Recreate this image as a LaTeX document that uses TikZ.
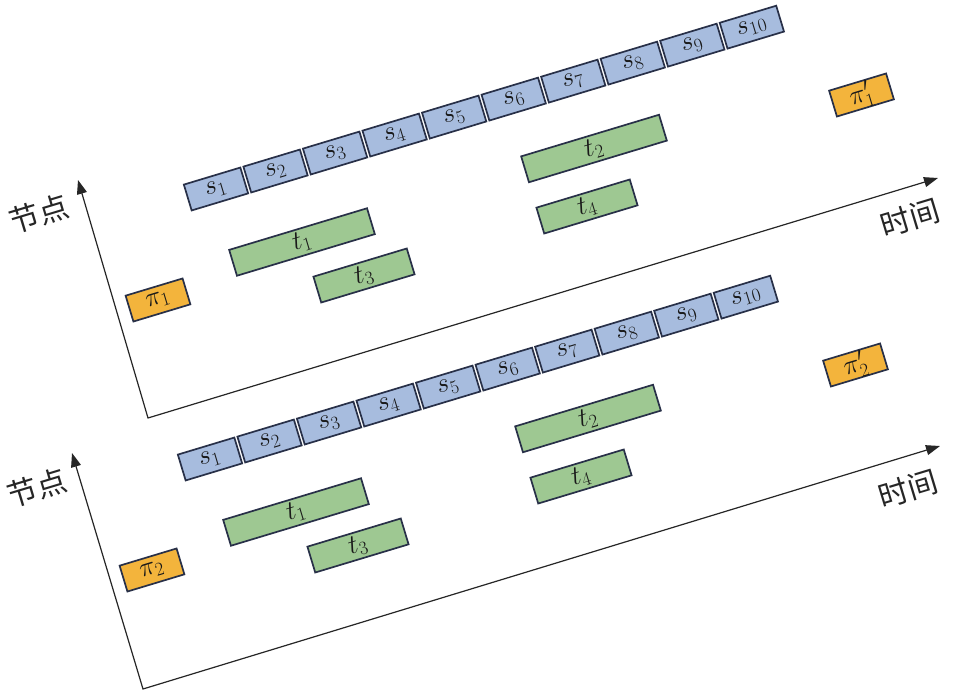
\RequirePackage{fix-cm}
\documentclass[tikz,border=0pt]{standalone}
\usepackage{fontspec}
\newfontfamily\cjk{Noto Sans CJK SC}
\usetikzlibrary{arrows.meta}
\definecolor{sblue}{HTML}{A7BCDE}
\definecolor{tgreen}{HTML}{9EC892}
\definecolor{porange}{HTML}{F3B43C}
\definecolor{edgec}{HTML}{283048}
\begin{document}
\begin{tikzpicture}[x=1pt,y=1pt,
  box/.style={draw=edgec,line width=1.7pt,inner sep=0pt,minimum height=27pt,rotate=16.8,
    font=\fontsize{27}{32}\selectfont,text=black!90},
  sbox/.style={box,fill=sblue,minimum width=59pt},
  tlong/.style={box,fill=tgreen,minimum width=144pt},
  tshort/.style={box,fill=tgreen,minimum width=97.5pt},
  pbox/.style={box,fill=porange,minimum width=59.5pt},
  axisline/.style={line width=1.2pt,draw=black!85,{Triangle[length=14pt,width=10pt]}-{Triangle[length=14pt,width=10pt]}},
  axlabel/.style={font=\cjk\fontsize{30}{34}\selectfont,rotate=16.8,inner sep=0pt,text=black!85}]
\useasboundingbox (0,-692) rectangle (954,0);
\fill[white] (0,-692) rectangle (954,0);
\foreach \p/\dx/\dy in {1/0/0, 2/-6/-270}{
  \begin{scope}[shift={(\dx,\dy)}]
    \foreach \i in {1,...,10}{
      \node[sbox] (s\i-\p) at ({216+(\i-1)*59.54},{-189+(\i-1)*17.98}) {$s_{\i}$};
    }
    \node[tlong]  (t1-\p) at (302,-242) {$t_{1}$};
    \node[tshort] (t3-\p) at (364,-275.5) {$t_{3}$};
    \node[tlong]  (t2-\p) at (594,-148.5) {$t_{2}$};
    \node[tshort] (t4-\p) at (587,-206.5) {$t_{4}$};
    \node[pbox]   (pa-\p) at (158,-300) {$\pi_{\p}$};
    \node[pbox]   (pb-\p) at (861.5,-95) {$\pi'_{\p}$};
  \end{scope}
}
% axes, top panel
\coordinate (o1) at (148,-418);
\coordinate (xt1) at (938,-178);
\coordinate (yt1) at (78,-180);
\draw[axisline] (yt1) -- (o1) -- (xt1);
\node[axlabel] (nd1) at (39,-214) {节点};
\node[axlabel] (tm1) at (910,-218) {时间};
% axes, bottom panel
\coordinate (o2) at (143,-689);
\coordinate (xt2) at (940,-446);
\coordinate (yt2) at (72,-453);
\draw[axisline] (yt2) -- (o2) -- (xt2);
\node[axlabel] (nd2) at (37,-488) {节点};
\node[axlabel] (tm2) at (908,-489) {时间};
\end{tikzpicture}
\end{document}
